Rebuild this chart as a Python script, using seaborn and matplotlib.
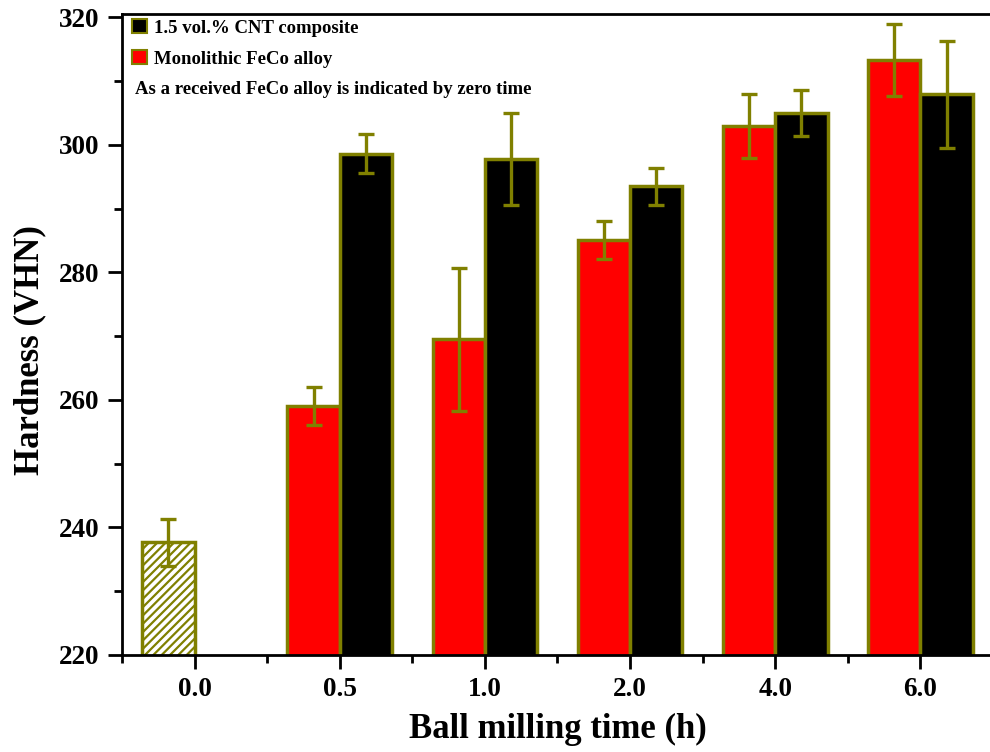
import matplotlib
matplotlib.use("Agg")
import matplotlib.pyplot as plt
import seaborn as sns
import pandas as pd
from matplotlib.patches import Patch
from matplotlib.ticker import MultipleLocator, FixedLocator

# Vickers hardness of FeCo powders vs. ball milling time
times = ["0.0", "0.5", "1.0", "2.0", "4.0", "6.0"]
milled_times = ["0.5", "1.0", "2.0", "4.0", "6.0"]

as_received_hv = 237.7
as_received_err = 3.7

monolithic_hv = [259.0, 269.5, 285.1, 303.0, 313.3]
monolithic_err = [3.0, 11.2, 3.0, 5.0, 5.6]

cnt_hv = [298.6, 297.8, 293.5, 305.0, 307.9]
cnt_err = [3.1, 7.2, 2.9, 3.6, 8.4]

mono_label = "Monolithic FeCo alloy"
cnt_label = "1.5 vol.% CNT composite"
note_text = "As a received FeCo alloy is indicated by zero time"

OLIVE = "#808000"

rows = [{"time": "0.0", "series": mono_label, "hv": as_received_hv, "err": as_received_err}]
rows += [{"time": t, "series": mono_label, "hv": v, "err": e}
         for t, v, e in zip(milled_times, monolithic_hv, monolithic_err)]
rows += [{"time": t, "series": cnt_label, "hv": v, "err": e}
         for t, v, e in zip(milled_times, cnt_hv, cnt_err)]
df = pd.DataFrame(rows)

sns.set_theme(style="ticks")
plt.rcParams["font.family"] = ["Liberation Serif", "DejaVu Serif"]
plt.rcParams["font.weight"] = "bold"
plt.rcParams["hatch.linewidth"] = 1.6
plt.rcParams["text.color"] = "black"
plt.rcParams["axes.labelcolor"] = "black"
plt.rcParams["xtick.color"] = "black"
plt.rcParams["ytick.color"] = "black"

fig = plt.figure(figsize=(9.9, 7.52), dpi=100)
ax = fig.add_axes([122 / 990, 97 / 752, 871 / 990, 641 / 752])

hue_order = [mono_label, cnt_label]
sns.barplot(data=df, x="time", y="hv", hue="series", order=times,
            hue_order=hue_order, palette={mono_label: "red", cnt_label: "black"},
            width=0.72, errorbar=None, edgecolor=OLIVE, linewidth=2.5,
            saturation=1, legend=False, ax=ax)

# error bars placed on the drawn bars
err_lookup = {(r.time, r.series): r.err for r in df.itertuples()}
for series, container in zip(hue_order, ax.containers):
    for bar in container:
        cx = bar.get_x() + bar.get_width() / 2
        t = times[int(round(cx))]
        key = (t, series)
        if key not in err_lookup:
            continue
        if t == "0.0":
            bar.set_facecolor("white")
            bar.set_hatch("////")
            bar.set_edgecolor(OLIVE)
        ax.errorbar(cx, bar.get_height(), yerr=err_lookup[key], fmt="none",
                    ecolor=OLIVE, elinewidth=2.4, capsize=5.5, capthick=2.4,
                    zorder=5)

ax.set_ylim(220, 320.5)
ax.set_xlim(-0.5, 5.5)
ax.yaxis.set_major_locator(MultipleLocator(20))
ax.yaxis.set_minor_locator(MultipleLocator(10))
ax.xaxis.set_minor_locator(FixedLocator([i - 0.5 for i in range(len(times))]))

for side in ["left", "bottom", "top", "right"]:
    ax.spines[side].set_visible(True)
    ax.spines[side].set_linewidth(2.0)
    ax.spines[side].set_color("black")

ax.tick_params(axis="both", which="major", direction="out", length=10, width=2.0,
               labelsize=19.5, pad=6, colors="black")
ax.tick_params(axis="both", which="minor", direction="out", length=5.5, width=2.0,
               colors="black")
ax.tick_params(top=False, right=False, which="both")
for lab in ax.get_xticklabels() + ax.get_yticklabels():
    lab.set_fontweight("bold")

ax.set_xlabel("Ball milling time (h)", fontsize=25, fontweight="bold", labelpad=8,
              color="black")
ax.set_ylabel("Hardness (VHN)", fontsize=25, fontweight="bold", color="black")
ax.yaxis.set_label_coords(-0.087, 0.476)

handles = [Patch(facecolor="black", edgecolor=OLIVE, linewidth=1.5),
           Patch(facecolor="red", edgecolor=OLIVE, linewidth=1.5)]
ax.legend(handles, [cnt_label, mono_label], loc="upper left",
          bbox_to_anchor=(0.012, 0.992), frameon=False, borderaxespad=0,
          borderpad=0, handlelength=0.75, handleheight=0.75, handletextpad=0.4,
          labelspacing=0.74,
          prop={"family": "Liberation Serif", "weight": "bold", "size": 13.5})
ax.text(0.015, 0.882, note_text, transform=ax.transAxes, ha="left", va="center",
        fontsize=13.5, fontweight="bold", color="black")

fig.savefig("out.png", dpi=100, facecolor="white")
